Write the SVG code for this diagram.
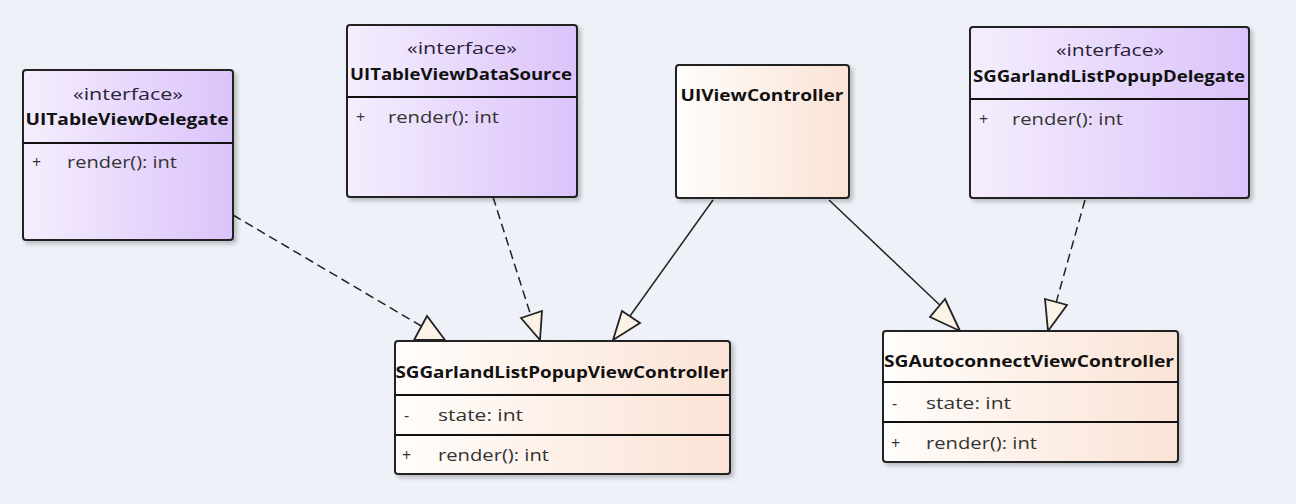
<svg xmlns="http://www.w3.org/2000/svg" width="1296" height="504" viewBox="0 0 1296 504">
<defs>
<linearGradient id="gI" x1="0" y1="0" x2="1" y2="0"><stop offset="0" stop-color="#F5EEFD"/><stop offset="1" stop-color="#DBC3FA"/></linearGradient>
<linearGradient id="gC" x1="0" y1="0" x2="1" y2="0"><stop offset="0" stop-color="#FFFDFB"/><stop offset="1" stop-color="#FAE3D5"/></linearGradient>
<filter id="sh" x="-5%" y="-5%" width="115%" height="115%"><feDropShadow dx="3" dy="3" stdDeviation="2" flood-color="#000" flood-opacity="0.22"/></filter>
<style>
.box{stroke:#222;stroke-width:2;filter:url(#sh)}
.div{stroke:#111;stroke-width:2}
.st{font-family:"Open Sans","Noto Sans",sans-serif;font-size:16px;fill:#2a2238;text-anchor:middle}
.nm{font-family:"Open Sans","Noto Sans",sans-serif;font-size:16px;font-weight:bold;fill:#111;text-anchor:middle}
.tx{font-family:"Open Sans","Noto Sans",sans-serif;font-size:16px;fill:#333}
.dash{stroke:#222;stroke-width:1.5;stroke-dasharray:9 5;fill:none}
.sol{stroke:#222;stroke-width:1.5;fill:none}
.tri{fill:#FCF3E6;stroke:#222;stroke-width:1.8;stroke-linejoin:miter}
</style>
</defs>
<rect width="1296" height="504" fill="#EEF1F8"/>
<g id="connectors">
<path class="dash" d="M233,215 L428,330"/>
<path class="dash" d="M493,197 L531,316"/>
<path class="sol" d="M713,200 L630,316"/>
<path class="sol" d="M829,200 L945,310"/>
<path class="dash" d="M1085,200 L1056,303"/>
<polygon class="tri" points="427,316 414,340 445,340"/>
<polygon class="tri" points="521,318 542,311 540,340"/>
<polygon class="tri" points="622,311 640,323 613,340"/>
<polygon class="tri" points="945,299 930,317 960,331"/>
<polygon class="tri" points="1045,299 1067,305 1048,331"/>
</g>
<g id="UITableViewDelegate">
<rect class="box" x="23" y="70" width="210" height="170" rx="3" fill="url(#gI)"/>
<line class="div" x1="23" y1="143" x2="233" y2="143"/>
<text class="st" x="128" y="100" textLength="110" lengthAdjust="spacingAndGlyphs">«interface»</text>
<text class="nm" x="127" y="125" textLength="203" lengthAdjust="spacingAndGlyphs">UITableViewDelegate</text>
<text class="tx" x="32" y="168">+</text>
<text class="tx" x="67" y="168" textLength="110" lengthAdjust="spacingAndGlyphs">render(): int</text>
</g>
<g id="UITableViewDataSource">
<rect class="box" x="347" y="25" width="230" height="172" rx="3" fill="url(#gI)"/>
<line class="div" x1="347" y1="97" x2="577" y2="97"/>
<text class="st" x="462" y="54" textLength="110" lengthAdjust="spacingAndGlyphs">«interface»</text>
<text class="nm" x="461" y="80" textLength="222" lengthAdjust="spacingAndGlyphs">UITableViewDataSource</text>
<text class="tx" x="356" y="123">+</text>
<text class="tx" x="388" y="123" textLength="111" lengthAdjust="spacingAndGlyphs">render(): int</text>
</g>
<g id="UIViewController">
<rect class="box" x="676" y="65" width="173" height="133" rx="3" fill="url(#gC)"/>
<text class="nm" x="762" y="101" textLength="163" lengthAdjust="spacingAndGlyphs">UIViewController</text>
</g>
<g id="SGGarlandListPopupDelegate">
<rect class="box" x="970" y="27" width="279" height="171" rx="3" fill="url(#gI)"/>
<line class="div" x1="970" y1="99" x2="1249" y2="99"/>
<text class="st" x="1110" y="56" textLength="108" lengthAdjust="spacingAndGlyphs">«interface»</text>
<text class="nm" x="1109" y="82" textLength="272" lengthAdjust="spacingAndGlyphs">SGGarlandListPopupDelegate</text>
<text class="tx" x="979" y="125">+</text>
<text class="tx" x="1012" y="125" textLength="111" lengthAdjust="spacingAndGlyphs">render(): int</text>
</g>
<g id="SGGarlandListPopupViewController">
<rect class="box" x="395" y="341" width="335" height="133" rx="3" fill="url(#gC)"/>
<line class="div" x1="395" y1="395" x2="730" y2="395"/>
<line class="div" x1="395" y1="435" x2="730" y2="435"/>
<text class="nm" x="562" y="378" textLength="333" lengthAdjust="spacingAndGlyphs">SGGarlandListPopupViewController</text>
<text class="tx" x="404" y="421">-</text>
<text class="tx" x="438" y="421" textLength="85" lengthAdjust="spacingAndGlyphs">state: int</text>
<text class="tx" x="402" y="461">+</text>
<text class="tx" x="438" y="461" textLength="111" lengthAdjust="spacingAndGlyphs">render(): int</text>
</g>
<g id="SGAutoconnectViewController">
<rect class="box" x="883" y="331" width="295" height="131" rx="3" fill="url(#gC)"/>
<line class="div" x1="883" y1="382" x2="1178" y2="382"/>
<line class="div" x1="883" y1="422" x2="1178" y2="422"/>
<text class="nm" x="1029" y="367" textLength="290" lengthAdjust="spacingAndGlyphs">SGAutoconnectViewController</text>
<text class="tx" x="892" y="409">-</text>
<text class="tx" x="926" y="409" textLength="85" lengthAdjust="spacingAndGlyphs">state: int</text>
<text class="tx" x="891" y="449">+</text>
<text class="tx" x="926" y="449" textLength="111" lengthAdjust="spacingAndGlyphs">render(): int</text>
</g>
</svg>
